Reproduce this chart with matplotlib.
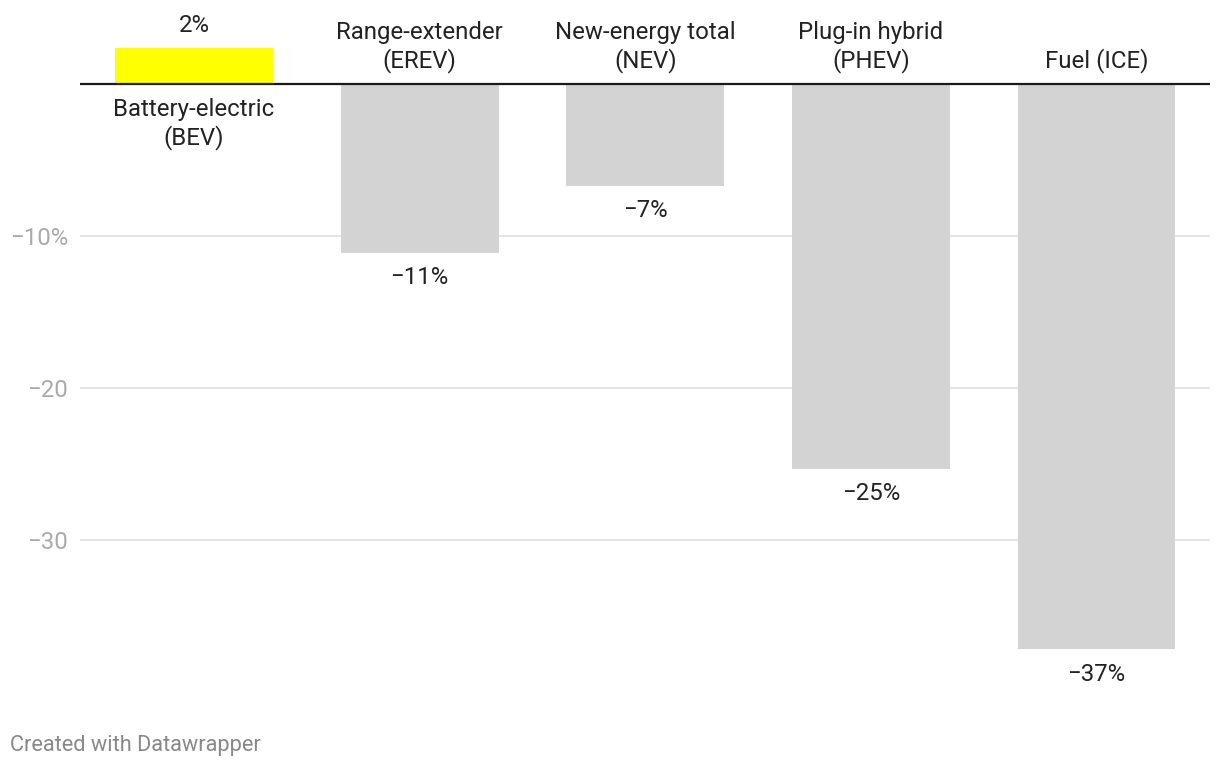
import matplotlib
matplotlib.use("Agg")
import matplotlib.pyplot as plt

plt.rcParams['font.family'] = ['Roboto', 'DejaVu Sans']

categories = ["Battery-electric\n(BEV)", "Range-extender\n(EREV)", "New-energy total\n(NEV)",
              "Plug-in hybrid\n(PHEV)", "Fuel (ICE)"]
values = [2.4, -11.1, -6.7, -25.3, -37.2]
value_labels = ["2%", "\u221211%", "\u22127%", "\u221225%", "\u221237%"]
colors = ["#ffff00", "#d3d3d3", "#d3d3d3", "#d3d3d3", "#d3d3d3"]
yticks = [-10, -20, -30]
ytick_labels = ["\u221210%", "\u221220", "\u221230"]

W, H = 1220, 768
fig = plt.figure(figsize=(W / 100, H / 100), dpi=100)
# axes pixel box
left_px, right_px, top_px, bot_px = 80, 1210, 40, 700
ax = fig.add_axes([left_px / W, 1 - bot_px / H, (right_px - left_px) / W, (bot_px - top_px) / H])
zero_px = 84
ppu = 15.2
ax.set_ylim(-(bot_px - zero_px) / ppu, (zero_px - top_px) / ppu)
ax.set_xlim(-0.505, 4.503)

for y in yticks:
    ax.axhline(y, color="#e3e3e3", lw=1.3, zorder=0)

x = list(range(len(categories)))
ax.bar(x, values, width=0.70, color=colors, zorder=2)
ax.axhline(0, color="#1a1a1a", lw=1.6, zorder=3)

fs = 17.3
for xi, v, lab, cat in zip(x, values, value_labels, categories):
    if v >= 0:
        ax.annotate(lab, (xi, v), xytext=(0, 7.5), textcoords="offset points",
                    ha="center", va="bottom", fontsize=fs, color="#222222")
        ax.annotate(cat, (xi, 0), xytext=(0, -10), textcoords="offset points",
                    ha="center", va="top", fontsize=fs, color="#222222", linespacing=1.2)
    else:
        ax.annotate(lab, (xi, v), xytext=(0, -9.5), textcoords="offset points",
                    ha="center", va="top", fontsize=fs, color="#222222")
        ax.annotate(cat, (xi, 0), xytext=(0, 8), textcoords="offset points",
                    ha="center", va="bottom", fontsize=fs, color="#222222", linespacing=1.2)

ax.set_yticks(yticks)
ax.set_yticklabels(ytick_labels, fontsize=fs, color="#aaaaaa")
ax.tick_params(axis="y", length=0, pad=8.5)
ax.set_xticks([])
for s in ax.spines.values():
    s.set_visible(False)

fig.text(10 / W, 1 - 745 / H, "Created with Datawrapper", fontsize=15.7, color="#888888",
         ha="left", va="center")

fig.savefig("out.png", dpi=100)
